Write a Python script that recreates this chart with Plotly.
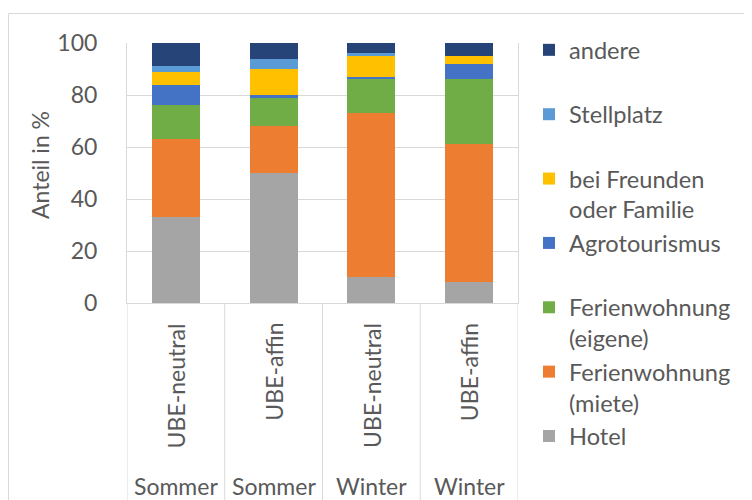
import plotly.graph_objects as go

seasons = ["Sommer", "Sommer", "Winter", "Winter"]
groups = ["UBE-neutral", "UBE-affin", "UBE-neutral", "UBE-affin"]

series_names = ["Hotel", "Ferienwohnung<br>(miete)", "Ferienwohnung<br>(eigene)",
                "Agrotourismus", "bei Freunden<br>oder Familie", "Stellplatz", "andere"]
hotel = [33, 50, 10, 8]
fw_miete = [30, 18, 63, 53]
fw_eigene = [13, 11, 13, 25]
agro = [8, 1, 1, 6]
freunde = [5, 10, 8, 3]
stellplatz = [2, 4, 1, 0]
andere = [9, 6, 4, 5]
series_values = [hotel, fw_miete, fw_eigene, agro, freunde, stellplatz, andere]
colors = ["#A5A5A5", "#ED7D31", "#70AD47", "#4472C4", "#FFC000", "#5B9BD5", "#264478"]

y_ticks = [0, 20, 40, 60, 80, 100]
y_title = "Anteil in %"

FONT = "Lato"
TXT = "#595959"
GRID = "#D9D9D9"
FS = 23

cats = [f"{s} {g}" for s, g in zip(seasons, groups)]

fig = go.Figure()
for name, vals, col in zip(series_names, series_values, colors):
    label = name if ("<br>" in name or name == "Hotel") else name + "<br> "
    fig.add_trace(go.Bar(x=cats, y=vals, name=label, marker=dict(color=col, line=dict(width=0))))

# page has an 8px body margin; figure is sized to fit the 752x500 window
OFF = 8
W, H = 752 - OFF, 500 - OFF
PL, PR, PT, PB = 127, 518, 43, 303   # plot area in page pixels
L, R, T, B = PL - OFF, W - (PR - OFF), PT - OFF, H - (PB - OFF)
pw, ph = PR - PL, PB - PT

def px_x(p):
    return (p - PL) / pw

def px_y(p):
    return (PB - p) / ph

annotations = []
for c, s, g in zip(cats, seasons, groups):
    annotations.append(dict(x=c, xref="x", y=px_y(321), yref="paper", text=g, textangle=-90,
                            showarrow=False, xanchor="center", yanchor="top",
                            font=dict(family=FONT, size=FS, color=TXT)))
    annotations.append(dict(x=c, xref="x", y=px_y(486), yref="paper", text=s,
                            showarrow=False, xanchor="center", yanchor="middle",
                            font=dict(family=FONT, size=FS, color=TXT)))
annotations.append(dict(x=px_x(40), xref="paper", y=px_y(165), yref="paper", text=y_title,
                        textangle=-90, showarrow=False, xanchor="center", yanchor="middle",
                        font=dict(family=FONT, size=FS, color=TXT)))

shapes = []
for i in range(len(cats) + 1):
    shapes.append(dict(type="line", xref="x", yref="paper", x0=i - 0.5, x1=i - 0.5,
                       y0=0, y1=px_y(520), line=dict(color=GRID, width=1)))
shapes.append(dict(type="rect", xref="paper", yref="paper", x0=px_x(8.5), x1=px_x(800),
                   y0=px_y(560), y1=px_y(13.5), line=dict(color=GRID, width=1), layer="below"))

fig.update_layout(
    width=W, height=H,
    margin=dict(l=L, r=R, t=T, b=B, autoexpand=False),
    barmode="stack", bargap=0.51,
    paper_bgcolor="white", plot_bgcolor="white",
    font=dict(family=FONT, size=FS, color=TXT),
    showlegend=True,
    legend=dict(x=px_x(529), y=px_y(28), xanchor="left", yanchor="top",
                traceorder="reversed", valign="top", itemwidth=30, maxheight=1.0,
                font=dict(family=FONT, size=23.6, color=TXT), tracegroupgap=0),
    xaxis=dict(showticklabels=False, showgrid=False, ticks="", showline=True,
               linecolor=GRID, linewidth=1, categoryorder="array", categoryarray=cats,
               range=[-0.5, len(cats) - 0.5], automargin=False),
    yaxis=dict(range=[0, 100], tickvals=y_ticks, showgrid=True, gridcolor=GRID, gridwidth=1,
               showline=True, mirror=True, linecolor=GRID, linewidth=1, ticks="",
               ticklabelstandoff=24, zeroline=False, automargin=False,
               tickfont=dict(family=FONT, size=FS, color=TXT)),
    annotations=annotations,
    shapes=shapes,
)

fig.write_html("out.html")
